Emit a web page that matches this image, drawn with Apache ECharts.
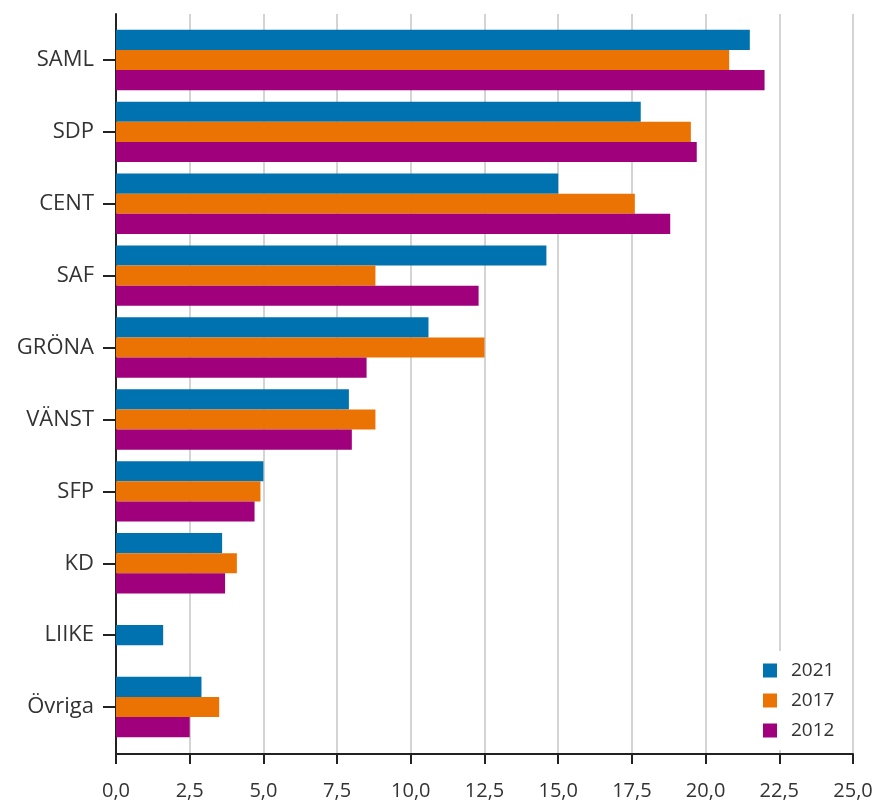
<!DOCTYPE html>
<html>
<head>
<meta charset="utf-8">
<script src="https://cdn.jsdelivr.net/npm/echarts@6/dist/echarts.min.js"></script>
<style>
html,body{margin:0;padding:0;background:#fff;}
#chart{width:878px;height:802px;}
</style>
</head>
<body>
<div id="chart"></div>
<script>
const categories = ['SAML', 'SDP', 'CENT', 'SAF', 'GRÖNA', 'VÄNST', 'SFP', 'KD', 'LIIKE', 'Övriga'];
const seriesNames = ['2021', '2017', '2012'];
const values2021 = [21.5, 17.8, 15.0, 14.6, 10.6, 7.9, 5.0, 3.6, 1.6, 2.9];
const values2017 = [20.8, 19.5, 17.6, 8.8, 12.5, 8.8, 4.9, 4.1, null, 3.5];
const values2012 = [22.0, 19.7, 18.8, 12.3, 8.5, 8.0, 4.7, 3.7, null, 2.5];
const xTickLabels = ['0,0', '2,5', '5,0', '7,5', '10,0', '12,5', '15,0', '17,5', '20,0', '22,5', '25,0'];
const colors = ['#0072B0', '#EB7303', '#A1007D'];

const FONT = '"Open Sans", "DejaVu Sans", sans-serif';
const chart = echarts.init(document.getElementById('chart'), null, {renderer: 'canvas'});
const seriesData = [values2021, values2017, values2012];

// categories where only one series has a value: that bar is drawn centred in its band
const singleIdx = categories.map(function (c, k) {
  const present = seriesData.filter(function (arr) { return arr[k] != null; });
  return present.length === 1;
});

const mainSeries = seriesNames.map(function (name, i) {
  return {
    name: name, type: 'bar', xAxisIndex: 1, yAxisIndex: 1,
    data: seriesData[i].map(function (v, k) { return singleIdx[k] ? null : v; }),
    itemStyle: {color: colors[i]},
    barGap: '0%', barCategoryGap: '16%'
  };
});
const singleSeries = seriesNames.map(function (name, i) {
  return {
    name: name, type: 'bar', xAxisIndex: 2, yAxisIndex: 2,
    data: seriesData[i].map(function (v, k) { return singleIdx[k] ? v : null; }),
    itemStyle: {color: colors[i]},
    stack: 'single', barWidth: '28%'
  };
});

chart.setOption({
  animation: false,
  backgroundColor: '#fff',
  textStyle: {fontFamily: FONT},
  grid: [
    {left: 116, right: 25, top: 14, bottom: 48},
    {left: 116, right: 25, top: 24, bottom: 59},
    {left: 116, right: 25, top: 24, bottom: 59}
  ],
  xAxis: [
    {
      gridIndex: 0, type: 'value', min: 0, max: 25, interval: 2.5,
      axisLine: {show: true, lineStyle: {color: '#222', width: 2}},
      axisTick: {show: true, length: 10, lineStyle: {color: '#222', width: 2}},
      splitLine: {show: true, lineStyle: {color: '#d4d4d4', width: 2}},
      axisLabel: {
        margin: 27, color: '#333', fontSize: 20, fontFamily: FONT,
        formatter: function (v) { return xTickLabels[Math.round(v / 2.5)]; }
      }
    },
    {gridIndex: 1, type: 'value', min: 0, max: 25, interval: 2.5, show: false},
    {gridIndex: 2, type: 'value', min: 0, max: 25, interval: 2.5, show: false}
  ],
  yAxis: [
    {
      gridIndex: 0, type: 'value', min: 0, max: 1,
      axisLine: {show: true, lineStyle: {color: '#222', width: 2}},
      axisTick: {show: false}, axisLabel: {show: false}, splitLine: {show: false}
    },
    {
      gridIndex: 1, type: 'category', inverse: true, data: categories,
      axisLine: {show: false},
      axisTick: {show: true, alignWithLabel: true, length: 13, lineStyle: {color: '#222', width: 2}},
      axisLabel: {margin: 22, color: '#333', fontSize: 22, fontFamily: FONT},
      splitLine: {show: false}
    },
    {gridIndex: 2, type: 'category', inverse: true, data: categories, show: false}
  ],
  legend: {
    orient: 'vertical', left: 753, top: 651, padding: 10,
    backgroundColor: '#fff',
    icon: 'rect', itemWidth: 14, itemHeight: 14, itemGap: 11,
    textStyle: {fontSize: 19, color: '#333', fontFamily: FONT, padding: [0, 0, 0, 9]},
    data: seriesNames
  },
  series: mainSeries.concat(singleSeries)
});
</script>
</body>
</html>
